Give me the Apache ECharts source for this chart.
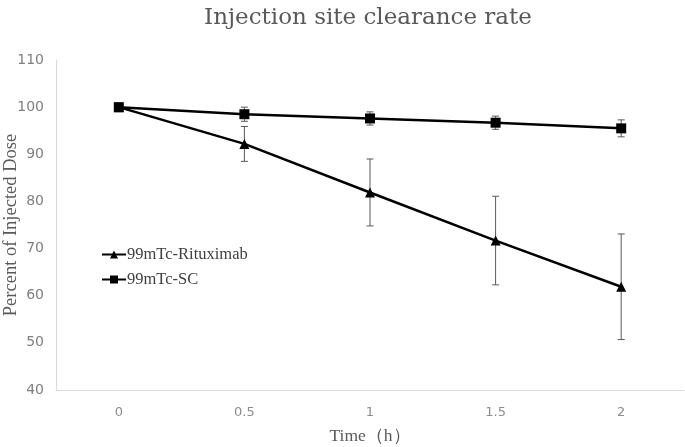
<!DOCTYPE html>
<html><head><meta charset="utf-8">
<script src="https://cdn.jsdelivr.net/npm/echarts@6/dist/echarts.min.js"></script>
<style>html,body{margin:0;padding:0;background:#fff}#c{width:685px;height:447px}</style>
</head><body><div id="c"></div>
<script>
const categories = ['0', '0.5', '1', '1.5', '2'];
const rituxValues = [100, 92.2, 81.9, 71.7, 61.9];
const rituxErrors = [0, 3.7, 7.1, 9.4, 11.2];
const scValues = [100, 98.5, 97.6, 96.7, 95.5];
const scErrors = [0, 1.5, 1.4, 1.4, 1.8];
const yTicks = [40, 50, 60, 70, 80, 90, 100, 110];

function errData(vals, errs) {
  return vals.map((v, i) => [i, v - errs[i], v + errs[i]]).filter((d, i) => errs[i] > 0);
}
function renderErr(params, api) {
  const x = api.value(0);
  const lo = api.coord([x, api.value(1)]);
  const hi = api.coord([x, api.value(2)]);
  const w = 3.5;
  const st = { stroke: '#595959', lineWidth: 1 };
  return { type: 'group', children: [
    { type: 'line', shape: { x1: lo[0], y1: lo[1], x2: hi[0], y2: hi[1] }, style: st },
    { type: 'line', shape: { x1: lo[0] - w, y1: lo[1], x2: lo[0] + w, y2: lo[1] }, style: st },
    { type: 'line', shape: { x1: hi[0] - w, y1: hi[1], x2: hi[0] + w, y2: hi[1] }, style: st }
  ]};
}
const chart = echarts.init(document.getElementById('c'));
chart.setOption({
  animation: false,
  title: { text: 'Injection site clearance rate', left: 363, textAlign: 'center', top: 2,
    textStyle: { fontFamily: 'DejaVu Serif', fontWeight: 'normal', fontSize: 23, color: '#595959' } },
  grid: { left: 56, right: 1, top: 60, bottom: 57, containLabel: false, outerBoundsMode: 'none' },
  legend: { orient: 'vertical', left: 96, top: 241, itemGap: 8, itemWidth: 24, itemHeight: 10,
    data: ['99mTc-Rituximab', '99mTc-SC'],
    textStyle: { fontFamily: 'Liberation Serif', fontSize: 16.5, color: '#404040', padding: [0, 0, 0, -4] } },
  xAxis: { type: 'category', data: categories, boundaryGap: true,
    name: 'Time（h）', nameLocation: 'middle', nameGap: 37, nameMoveOverlap: false,
    nameTextStyle: { fontFamily: 'Liberation Serif', fontSize: 17.5, color: '#595959' },
    axisLine: { lineStyle: { color: '#d9d9d9', width: 1 } }, axisTick: { show: false },
    axisLabel: { margin: 16, fontFamily: 'DejaVu Sans', fontSize: 13, color: '#8c8c8c' } },
  yAxis: { type: 'value', min: 40, max: 110, interval: 10,
    name: 'Percent of Injected Dose', nameLocation: 'middle', nameGap: 35, nameMoveOverlap: false,
    nameTextStyle: { fontFamily: 'Liberation Serif', fontSize: 18.5, color: '#595959' },
    axisLine: { show: true, lineStyle: { color: '#d9d9d9', width: 1 } }, axisTick: { show: false },
    splitLine: { show: false },
    axisLabel: { margin: 12, fontFamily: 'DejaVu Sans', fontSize: 14, color: '#7f7f7f',
      formatter: v => yTicks.includes(v) ? String(v) : '' } },
  series: [
    { name: '99mTc-Rituximab', type: 'line', data: rituxValues, symbol: 'triangle', symbolSize: 10,
      lineStyle: { color: '#000', width: 2.5 }, itemStyle: { color: '#000' }, z: 3 },
    { name: '99mTc-SC', type: 'line', data: scValues, symbol: 'rect', symbolSize: 10,
      lineStyle: { color: '#000', width: 2.5 }, itemStyle: { color: '#000' }, z: 3 },
    { type: 'custom', renderItem: renderErr, data: errData(rituxValues, rituxErrors), z: 2, silent: true },
    { type: 'custom', renderItem: renderErr, data: errData(scValues, scErrors), z: 2, silent: true }
  ]
});
</script></body></html>
